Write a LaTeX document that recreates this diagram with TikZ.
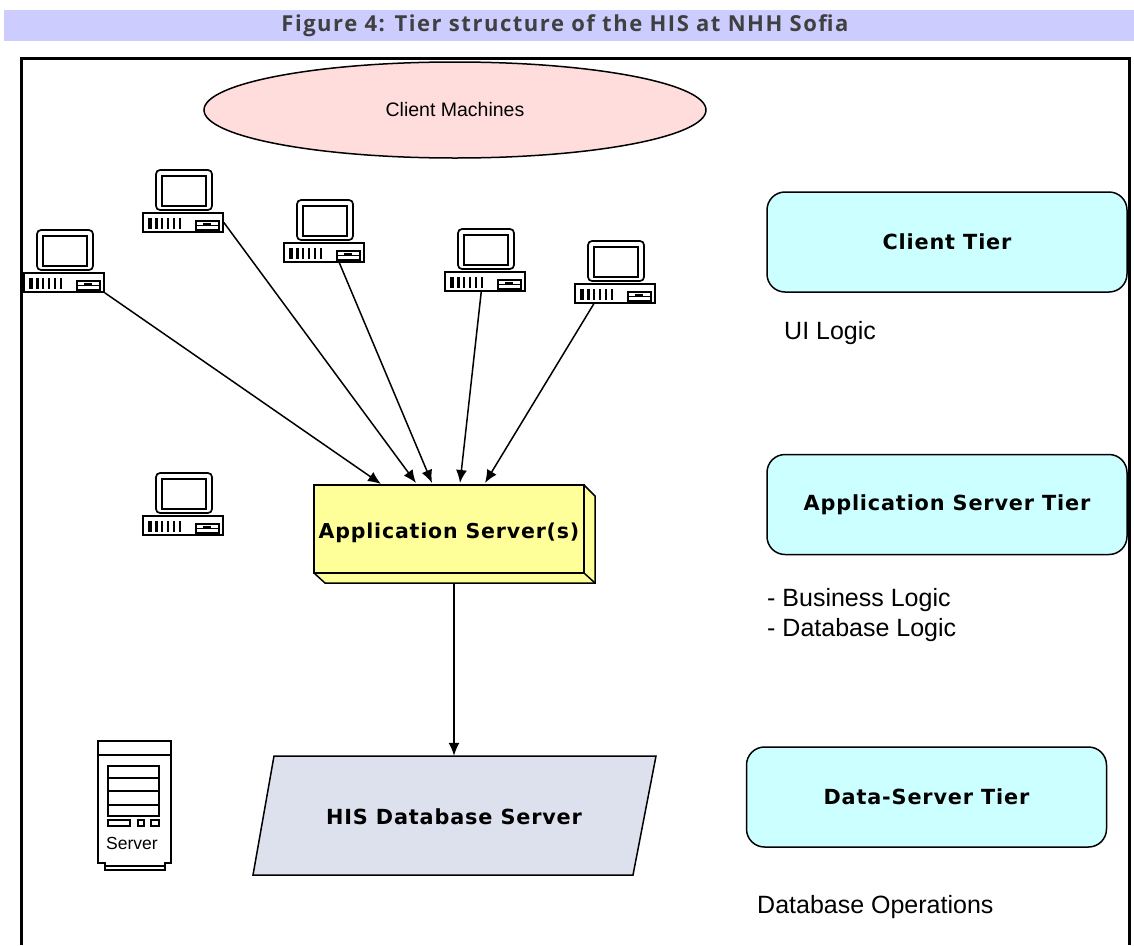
\documentclass[tikz,border=0pt]{standalone}
\usepackage{fontspec}
\setmainfont{Liberation Sans}
\newfontfamily\boldface[LetterSpace=4]{DejaVu Sans Bold}
\newfontfamily\titleface[LetterSpace=7]{Open Sans Bold}
\usetikzlibrary{arrows.meta,shapes.geometric}
\definecolor{bandblue}{HTML}{CCCCFF}
\definecolor{clientpink}{HTML}{FFDDDD}
\definecolor{tiercyan}{HTML}{CCFFFF}
\definecolor{appyellow}{HTML}{FFFF99}
\definecolor{dbgrey}{HTML}{DDE1EE}
\tikzset{
	conn/.style={line width=1.5, -{Latex[length=13pt,width=11pt]}},
	pcbase/.style={draw, line width=1.7, inner sep=0, minimum width=80, minimum height=19},
	tierbox/.style={draw, line width=1.5, fill=tiercyan, rounded corners=18, minimum width=360, minimum height=100, font=\boldface\fontsize{20.8}{24}\selectfont},
	note/.style={inner sep=0, anchor=west, font=\fontsize{25}{29}\selectfont},
}
\newcommand{\pcicon}[3]{
	\node (#1) at (#2+40,#3+9.5)[pcbase] {};
	\begin{scope}[shift={(#2,#3)}, line width=1.7]
		\draw[rounded corners=4] (13,-43) rectangle (69,-3);
		\draw (19,-37) rectangle (63,-7);
		\foreach \barx/\barw in {5/4, 12/3, 18/1.5, 24/1.5, 30/1.5, 36/1.5}
			\fill (\barx,5) rectangle (\barx+\barw,16);
		\draw (53,8) rectangle (76,17);
		\draw (53,12.5) -- (76,12.5);
		\fill (60,10) rectangle (68,13);
	\end{scope}
}
\begin{document}
\begin{tikzpicture}[x=1pt,y=-1pt]
	\useasboundingbox (0,0) rectangle (1134,945);
	\fill[bandblue] (4,10) rectangle (1134,41);
	\node (figtitle) at (565,25.5)[text=black!75, font=\titleface\fontsize{22}{25}\selectfont] {Figure 4: Tier structure of the HIS at NHH Sofia};
	\draw[line width=3] (21.5,945) -- (21.5,58.5) -- (1131,58.5);
	\draw[line width=3] (1129.5,58.5) -- (1129.5,945);
	% clients
	\node (clients) at (455,110)[draw, ellipse, line width=1.5, fill=clientpink, inner sep=0, minimum width=502, minimum height=96, font=\fontsize{19.5}{22}\selectfont] {Client Machines};
	\pcicon{pcA}{24}{273}
	\pcicon{pcB}{143}{213}
	\pcicon{pcC}{284}{243}
	\pcicon{pcD}{445}{272}
	\pcicon{pcE}{575}{284}
	\pcicon{pcF}{143}{516}
	% application server
	\fill[appyellow] (314,485) -- (584,485) -- (595,496) -- (595,583) -- (325,583) -- (314,573) -- cycle;
	\draw[line width=1.5] (584,485) -- (595,496) -- (595,583) -- (325,583) -- (314,573);
	\draw[line width=1.5] (584,573) -- (595,583);
	\node (appserver) at (449,529)[draw, line width=1.5, inner sep=0, minimum width=270, minimum height=88, text height=24pt, text depth=5pt, font=\boldface\fontsize{20.5}{24}\selectfont] {Application Server(s)};
	\coordinate (inA) at (381,484);
	\coordinate (inB) at (416,483);
	\coordinate (inC) at (432,483);
	\coordinate (inD) at (460,483);
	\coordinate (inE) at (485,483);
	\draw[conn] (pcA.south east)--(inA);
	\draw[conn] (pcB.east)--(inB);
	\draw[conn] (pcC.-34)--(inC);
	\draw[conn] (pcD.-110)--(inD);
	\draw[conn] (pcE.-154)--(inE);
	% database server
	\fill[dbgrey, draw=black, line width=1.5] (274,756) -- (656,756) -- (633,875) -- (253,875) -- cycle;
	\node (dbserver) at (454,817)[inner sep=0, minimum width=380, minimum height=122, font=\boldface\fontsize{20.8}{24}\selectfont] {HIS Database Server};
	\coordinate (appbottom) at (454,583);
	\draw[conn] (appbottom)--(dbserver.north);
	% server icon
	\begin{scope}[line width=1.5]
		\draw (98,741) rectangle (171,755);
		\draw (98,755) -- (98,863) -- (105,863) -- (105,870) -- (165,870) -- (165,863) -- (171,863) -- (171,755);
		\draw (105,866) -- (165,866);
		\draw (108,766) rectangle (159,816);
		\foreach \shelfy in {778,791,805}
			\draw (108,\shelfy) -- (159,\shelfy);
		\draw (108,820) rectangle (130,826);
		\draw (138,820) rectangle (144,826);
		\draw (151,820) rectangle (159,826);
	\end{scope}
	\node (servername) at (132,843)[inner sep=0, font=\fontsize{17.5}{20}\selectfont] {Server};
	% tiers
	\node (clienttier) at (947,242)[tierbox] {Client Tier};
	\node (apptier) at (947,504.5)[tierbox] {Application Server Tier};
	\node (datatier) at (926.5,797)[tierbox] {Data-Server Tier};
	\node (uilogic) at (784,333)[note] {UI Logic};
	\node (bizlogic) at (767,600)[note] {- Business Logic};
	\node (dblogic) at (767,630)[note] {- Database Logic};
	\node (dbops) at (757,907)[note] {Database Operations};
\end{tikzpicture}
\end{document}
